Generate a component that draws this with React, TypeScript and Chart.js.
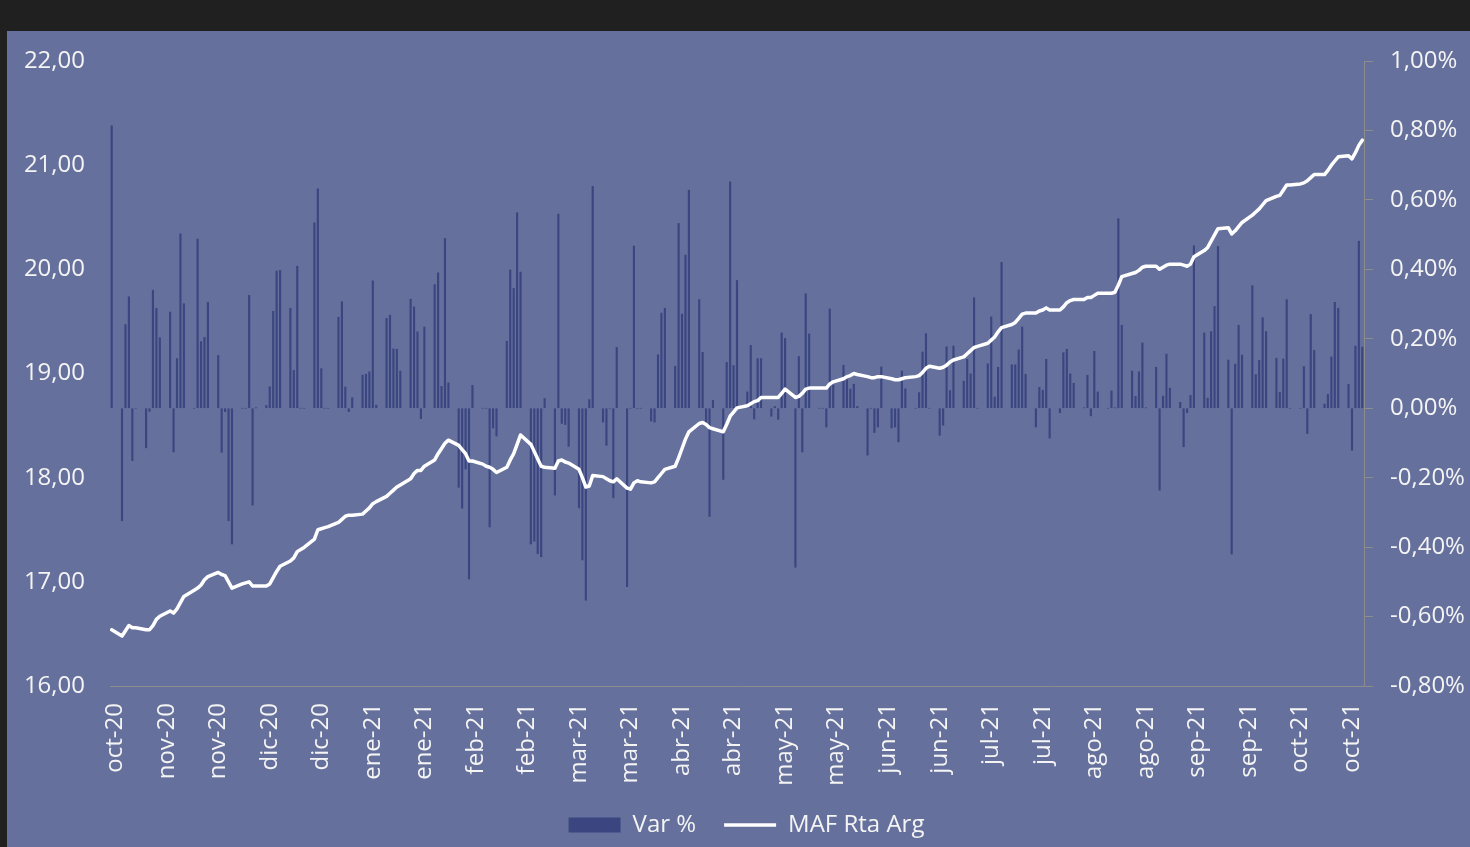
import React, { useEffect, useRef } from 'react';
import { Chart, registerables } from 'chart.js';

Chart.register(...registerables);

// First trading day shown (a Friday); the axis is a calendar-day axis
const START_DATE = '2020-10-23';

// Date-axis labels, one every 15 calendar days starting on day 1
const xTickLabels = [
  'oct-20', 'nov-20', 'nov-20', 'dic-20', 'dic-20', 'ene-21', 'ene-21', 'feb-21', 'feb-21',
  'mar-21', 'mar-21', 'abr-21', 'abr-21', 'may-21', 'may-21', 'jun-21', 'jun-21', 'jul-21',
  'jul-21', 'ago-21', 'ago-21', 'sep-21', 'sep-21', 'oct-21', 'oct-21',
];
const X_TICK_FIRST_DAY = 1;
const X_TICK_STEP_DAYS = 15;

// Daily variation (%), one value per weekday (Mon..Fri), first value is the opening Friday
const varPct = [
  0.813,
  -0.324, 0.241, 0.321, -0.151, 0,
  -0.114, -0.009, 0.340, 0.288, 0.203,
  0.277, -0.126, 0.143, 0.502, 0.301,
  0, 0.487, 0.192, 0.204, 0.305,
  0.152, -0.127, -0.010, -0.324, -0.391,
  0, 0, 0.325, -0.279, 0.001,
  0.008, 0.062, 0.279, 0.395, 0.397,
  0.288, 0.109, 0.409, 0, 0,
  0.534, 0.632, 0.114, 0, 0,
  0.262, 0.307, 0.061, -0.010, 0.030,
  0.095, 0.098, 0.105, 0.367, 0.009,
  0.259, 0.268, 0.171, 0.170, 0.107,
  0.314, 0.292, 0.220, -0.030, 0.234,
  0.356, 0.390, 0.063, 0.489, 0.073,
  -0.228, -0.288, -0.175, -0.492, 0.066,
  0, 0, -0.342, -0.057, -0.080,
  0.193, 0.398, 0.345, 0.563, 0.392,
  -0.391, -0.383, -0.419, -0.428, 0.028,
  -0.250, 0.559, -0.044, -0.047, -0.110,
  -0.287, -0.437, -0.553, 0.025, 0.639,
  -0.040, -0.107, 0, -0.258, 0.175,
  -0.514, 0, 0.467, 0, 0,
  -0.037, -0.040, 0.154, 0.274, 0.288,
  0.121, 0.532, 0.271, 0.441, 0.628,
  0.313, 0.161, -0.044, -0.312, 0.023,
  -0.205, 0.132, 0.652, 0.123, 0.368,
  0.047, 0.181, -0.031, 0.143, 0.143,
  -0.023, 0.005, -0.032, 0.217, 0.201,
  -0.458, 0.149, -0.126, 0.330, 0.214,
  0, 0, -0.054, 0.286, 0.067,
  0.124, 0.082, 0.055, 0.069, 0.005,
  -0.135, 0.000, -0.070, -0.054, 0.119,
  -0.057, -0.054, -0.097, 0.107, 0.056,
  0, 0.045, 0.162, 0.215, 0,
  -0.078, -0.049, 0.177, 0.051, 0.179,
  0.078, 0.141, 0.099, 0.318, 0,
  0.128, 0.263, 0.032, 0.118, 0.420,
  0.125, 0.125, 0.168, 0.234, 0.098,
  -0.054, 0.060, 0.052, 0.141, -0.086,
  -0.013, 0.160, 0.170, 0.099, 0.072,
  0.001, 0.095, -0.022, 0.164, 0.047,
  0, 0.050, 0.001, 0.546, 0.239,
  0.107, 0.034, 0.105, 0.188, 0.001,
  0.118, -0.236, 0.035, 0.156, 0.058,
  0.017, -0.111, -0.013, 0.037, 0.468,
  0.217, 0.029, 0.221, 0.293, 0.466,
  0.139, -0.420, 0.127, 0.239, 0.153,
  0.353, 0.097, 0.138, 0.261, 0.221,
  0.144, 0.046, 0.142, 0.313, 0,
  0, 0.120, -0.073, 0.270, 0.167,
  0.012, 0.040, 0.148, 0.305, 0.288,
  0.069, -0.121, 0.179, 0.481, 0.176,
];

// MAF Rta Arg quote, one value per weekday, same days as varPct
const mafRtaArg = [
  16.54,
  16.48, 16.53, 16.58, 16.56, 16.56,
  16.54, 16.54, 16.58, 16.64, 16.67,
  16.72, 16.70, 16.74, 16.80, 16.86,
  16.92, 16.94, 16.97, 17.02, 17.05,
  17.09, 17.07, 17.06, 17.00, 16.94,
  16.98, 16.99, 17.00, 16.96, 16.96,
  16.96, 16.98, 17.04, 17.10, 17.15,
  17.20, 17.23, 17.29, 17.31, 17.33,
  17.41, 17.50, 17.51, 17.52, 17.53,
  17.57, 17.60, 17.63, 17.64, 17.64,
  17.65, 17.68, 17.71, 17.75, 17.77,
  17.82, 17.85, 17.88, 17.91, 17.93,
  17.99, 18.04, 18.07, 18.07, 18.11,
  18.17, 18.23, 18.28, 18.33, 18.36,
  18.31, 18.27, 18.23, 18.16, 18.16,
  18.13, 18.11, 18.10, 18.08, 18.05,
  18.10, 18.17, 18.23, 18.32, 18.41,
  18.32, 18.25, 18.18, 18.11, 18.10,
  18.09, 18.16, 18.17, 18.15, 18.14,
  18.08, 18.00, 17.91, 17.92, 18.02,
  18.01, 17.99, 17.97, 17.96, 17.99,
  17.90, 17.89, 17.95, 17.97, 17.96,
  17.95, 17.96, 18.00, 18.04, 18.08,
  18.11, 18.19, 18.28, 18.37, 18.44,
  18.52, 18.53, 18.51, 18.48, 18.47,
  18.44, 18.51, 18.59, 18.63, 18.67,
  18.69, 18.71, 18.73, 18.74, 18.77,
  18.77, 18.77, 18.77, 18.81, 18.85,
  18.77, 18.78, 18.81, 18.85, 18.86,
  18.86, 18.86, 18.86, 18.90, 18.92,
  18.95, 18.97, 18.98, 19.00, 18.99,
  18.97, 18.96, 18.96, 18.97, 18.97,
  18.95, 18.94, 18.94, 18.95, 18.96,
  18.97, 18.98, 19.01, 19.05, 19.07,
  19.05, 19.06, 19.08, 19.11, 19.13,
  19.16, 19.19, 19.22, 19.25, 19.26,
  19.29, 19.32, 19.35, 19.40, 19.44,
  19.47, 19.49, 19.53, 19.57, 19.58,
  19.58, 19.60, 19.61, 19.63, 19.61,
  19.61, 19.64, 19.68, 19.70, 19.71,
  19.71, 19.73, 19.73, 19.75, 19.77,
  19.77, 19.77, 19.78, 19.85, 19.93,
  19.96, 19.97, 19.99, 20.02, 20.03,
  20.03, 20.00, 20.02, 20.04, 20.05,
  20.05, 20.04, 20.03, 20.05, 20.12,
  20.18, 20.21, 20.27, 20.33, 20.39,
  20.40, 20.34, 20.37, 20.41, 20.45,
  20.52, 20.55, 20.58, 20.62, 20.66,
  20.70, 20.71, 20.76, 20.81, 20.81,
  20.82, 20.83, 20.85, 20.88, 20.91,
  20.91, 20.95, 21.00, 21.04, 21.08,
  21.09, 21.06, 21.12, 21.19, 21.24,
];

const LEFT_MIN = 16;
const LEFT_MAX = 22;
const LEFT_STEP = 1;
const RIGHT_MIN = -0.8;
const RIGHT_MAX = 1.0;
const RIGHT_STEP = 0.2;

const BG = '#65709c';
const BAR_COLOR = '#3b4680';
const LINE_COLOR = '#ffffff';
const AXIS_COLOR = '#8c8c8c';
const TEXT_COLOR = '#f4f4f4';
const FONT = { family: '"Open Sans", "DejaVu Sans", sans-serif', size: 24 };
const TICK_FONT = { family: '"Open Sans", "DejaVu Sans", sans-serif', size: 24, lineHeight: 1 };

// Calendar-day offsets (from START_DATE) of the weekdays carrying data
function weekdayOffsets(count: number): number[] {
  const start = new Date(START_DATE + 'T00:00:00Z').getTime();
  const out: number[] = [];
  for (let d = 0; out.length < count; d++) {
    const wd = new Date(start + d * 86400000).getUTCDay();
    if (wd !== 0 && wd !== 6) out.push(d);
  }
  return out;
}

function fmt(v: number, digits: number): string {
  const r = Math.abs(v) < 1e-9 ? 0 : v;
  return r.toFixed(digits).replace('.', ',');
}

const CANVAS_W = 1463;
const CANVAS_H = 816;

export default function App() {
  const ref = useRef<HTMLCanvasElement | null>(null);

  useEffect(() => {
    if (!ref.current) return;
    const days = weekdayOffsets(varPct.length);
    const barData = days.map((d, i) => ({ x: d, y: varPct[i] }));
    const lineData = days.map((d, i) => ({ x: d, y: mafRtaArg[i] }));
    const lastDay = days[days.length - 1];

    const chart = new Chart(ref.current, {
      type: 'bar',
      data: {
        datasets: [
          {
            type: 'bar',
            label: 'Var %',
            data: barData,
            yAxisID: 'y1',
            backgroundColor: BAR_COLOR,
            borderWidth: 0,
            barThickness: 1.5,
            pointStyle: 'rect',
            order: 2,
          } as any,
          {
            type: 'line',
            label: 'MAF Rta Arg',
            data: lineData,
            yAxisID: 'y',
            borderColor: LINE_COLOR,
            backgroundColor: LINE_COLOR,
            borderWidth: 3.5,
            pointRadius: 0,
            tension: 0,
            borderJoinStyle: 'round',
            borderCapStyle: 'round',
            pointStyle: 'line',
            order: 1,
          } as any,
        ],
      },
      options: {
        animation: false,
        responsive: false,
        devicePixelRatio: 1,
        layout: { padding: { top: 30, left: 16, right: 0, bottom: 0 } },
        scales: {
          x: {
            type: 'linear',
            min: -0.5,
            max: lastDay + 0.5,
            offset: false,
            afterBuildTicks: (scale: any) => {
              scale.ticks = xTickLabels.map((_, i) => ({ value: X_TICK_FIRST_DAY + X_TICK_STEP_DAYS * i }));
            },
            afterFit: (scale: any) => {
              scale.height = 99;
            },
            ticks: {
              autoSkip: false,
              minRotation: 90,
              maxRotation: 90,
              padding: 17,
              color: TEXT_COLOR,
              font: TICK_FONT,
              callback: (_v: any, i: number) => xTickLabels[i],
            },
            grid: { display: true, drawOnChartArea: false, drawTicks: false },
            border: { display: true, color: AXIS_COLOR, width: 1 },
          },
          y: {
            position: 'left',
            min: LEFT_MIN,
            max: LEFT_MAX,
            afterFit: (scale: any) => {
              scale.width = 87;
            },
            ticks: {
              stepSize: LEFT_STEP,
              padding: 5,
              color: TEXT_COLOR,
              font: TICK_FONT,
              callback: (v: any) => fmt(Number(v), 2),
            },
            grid: { display: false, drawTicks: true, tickLength: 20 },
            border: { display: false },
          },
          y1: {
            position: 'right',
            min: RIGHT_MIN,
            max: RIGHT_MAX,
            afterFit: (scale: any) => {
              scale.width = 106;
            },
            ticks: {
              stepSize: RIGHT_STEP,
              padding: 17,
              color: TEXT_COLOR,
              font: TICK_FONT,
              callback: (v: any) => fmt(Number(v), 2) + '%',
            },
            grid: { drawOnChartArea: false, drawTicks: true, tickLength: 9, color: AXIS_COLOR },
            border: { display: true, color: AXIS_COLOR, width: 1 },
          },
        },
        plugins: {
          legend: {
            position: 'bottom',
            labels: {
              usePointStyle: true,
              pointStyleWidth: 52,
              boxHeight: 15,
              padding: 28,
              color: TEXT_COLOR,
              font: FONT,
              sort: (a: any, b: any) => a.datasetIndex - b.datasetIndex,
            },
          },
          tooltip: { enabled: false },
        },
      } as any,
    });
    return () => chart.destroy();
  }, []);

  return (
    <div style={{ position: 'fixed', left: 0, top: 0, width: 1470, height: 847, background: '#202020', overflow: 'hidden' }}>
      <canvas
        ref={ref}
        width={CANVAS_W}
        height={CANVAS_H}
        style={{ position: 'absolute', left: 7, top: 31, width: CANVAS_W, height: CANVAS_H, background: BG }}
      />
    </div>
  );
}
